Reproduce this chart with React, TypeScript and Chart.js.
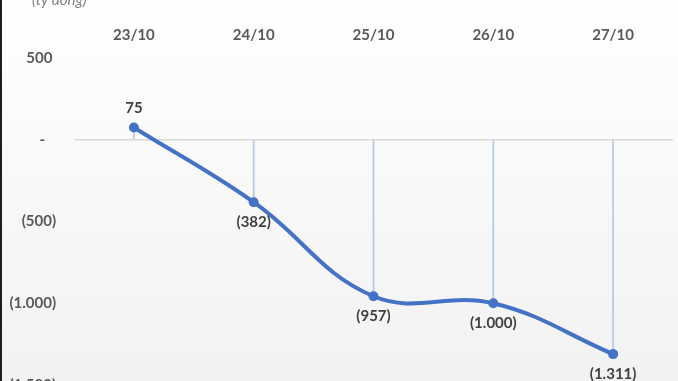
import React, { useEffect, useRef } from "react";
import { Chart, registerables } from "chart.js";

Chart.register(...registerables);

const categories = ["23/10", "24/10", "25/10", "26/10", "27/10"];
const values = [75, -382, -957, -1000, -1311];
const yTickValues = [500, 0, -500, -1000, -1500];
const unitLabel = "(tỷ đồng)";

const FONT = "Lato";

function fmtNumber(v: number): string {
  if (v === 0) return "-";
  const s = Math.abs(v).toString().replace(/\B(?=(\d{3})+(?!\d))/g, ".");
  return v < 0 ? "(" + s + ")" : s;
}

function fmtTick(v: number): string {
  if (v === 0) return "-   ";
  if (v > 0) return fmtNumber(v) + " ";
  return fmtNumber(v);
}

const bgPlugin = {
  id: "bgPlugin",
  beforeDraw(chart: any) {
    const { ctx, width } = chart;
    const h = 381;
    ctx.save();
    const g = ctx.createLinearGradient(0, 0, 0, h);
    g.addColorStop(0, "#ffffff");
    g.addColorStop(1, "#f2f2f2");
    ctx.fillStyle = g;
    ctx.fillRect(0, 0, width, chart.height);
    ctx.fillStyle = "#1e1e1e";
    ctx.fillRect(0, 0, 2, chart.height);
    ctx.restore();
  },
  afterDraw(chart: any) {
    const { ctx } = chart;
    ctx.save();
    ctx.font = `italic 15px ${FONT}`;
    ctx.fillStyle = "#7f7f7f";
    ctx.textAlign = "left";
    ctx.textBaseline = "alphabetic";
    ctx.fillText(unitLabel, 32, 5);
    ctx.restore();
  },
};

const labelPlugin = {
  id: "labelPlugin",
  afterDatasetsDraw(chart: any) {
    const { ctx } = chart;
    const meta = chart.getDatasetMeta(0);
    ctx.save();
    ctx.font = `bold 15px ${FONT}`;
    ctx.fillStyle = "#404040";
    ctx.textAlign = "center";
    ctx.textBaseline = "middle";
    meta.data.forEach((pt: any, i: number) => {
      const v = values[i];
      const y = v >= 0 ? pt.y - 19 : pt.y + 20;
      ctx.fillText(fmtNumber(v), pt.x, y);
    });
    ctx.restore();
  },
};

export default function App() {
  const ref = useRef<HTMLCanvasElement | null>(null);

  useEffect(() => {
    document.body.style.margin = "0";
    const canvas = ref.current;
    if (!canvas) return;
    const chart = new Chart(canvas, {
      type: "bar",
      data: {
        labels: categories,
        datasets: [
          {
            type: "line",
            data: values,
            borderColor: "#4472C4",
            backgroundColor: "#4472C4",
            borderWidth: 4,
            tension: 0.4,
            pointRadius: 5,
            pointHoverRadius: 5,
            pointBorderWidth: 0,
            pointBackgroundColor: "#4472C4",
            order: 0,
            clip: false,
          } as any,
          {
            type: "bar",
            data: values.map((v) => [0, v]) as any,
            backgroundColor: "#B4C7E7",
            barThickness: 1,
            order: 1,
          } as any,
        ],
      },
      options: {
        responsive: false,
        animation: false,
        devicePixelRatio: 1,
        layout: { padding: { left: 0, right: 0, top: 1, bottom: 16 } },
        plugins: {
          legend: { display: false },
          tooltip: { enabled: false },
        },
        scales: {
          x: {
            position: "top",
            offset: true,
            grid: { display: false },
            border: { display: false },
            ticks: {
              color: "#595959",
              font: { family: FONT, size: 15, weight: "bold" },
              padding: 6,
            },
            afterFit: (s: any) => {
              s.height = 57;
            },
          },
          y: {
            min: -1500,
            max: 500,
            afterBuildTicks: (s: any) => {
              s.ticks = yTickValues.map((v) => ({ value: v }));
            },
            grid: {
              color: (ctx: any) =>
                ctx.tick && ctx.tick.value === 0 ? "#D9D9D9" : "rgba(0,0,0,0)",
              drawTicks: false,
              lineWidth: 1.5,
            },
            border: { display: false },
            ticks: {
              color: "#595959",
              font: { family: FONT, size: 15, weight: "bold" },
              padding: 18,
              callback: (v: any) => fmtTick(Number(v)),
            },
            afterFit: (s: any) => {
              s.width = 74;
            },
          },
        },
      } as any,
      plugins: [bgPlugin, labelPlugin],
    });
    return () => chart.destroy();
  }, []);

  return (
    <div
      style={{
        position: "fixed",
        left: 0,
        top: 0,
        width: 678,
        height: 381,
        overflow: "hidden",
      }}
    >
      <canvas ref={ref} width={678} height={412} style={{ display: "block" }} />
    </div>
  );
}
